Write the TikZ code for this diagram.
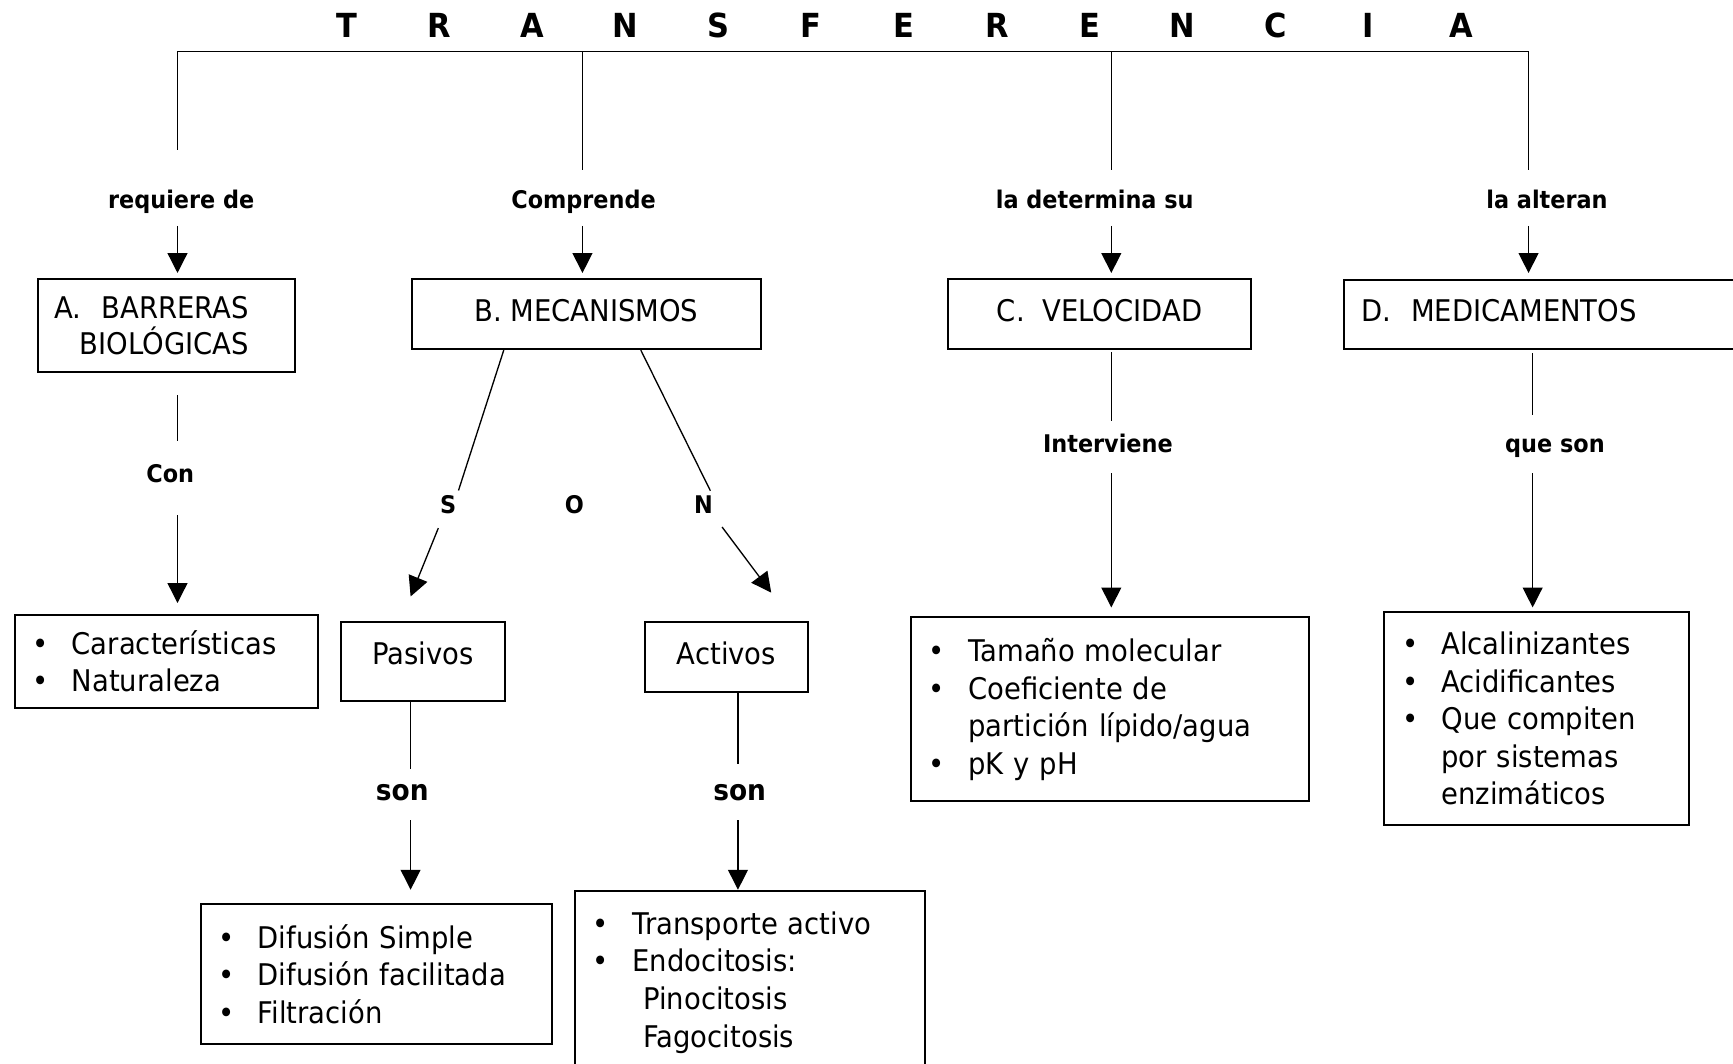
\documentclass[tikz,border=0pt]{standalone}
\usepackage{fontspec}
\setmainfont{DejaVu Sans}[FakeStretch=0.92]
\usetikzlibrary{arrows.meta,positioning}
\tikzset{
  ln/.style={line width=0.6pt},
  arr/.style={ln, -{Triangle[length=9pt,width=9pt]}},
  box/.style={draw, line width=0.9pt, anchor=north west, inner sep=0pt},
  hbox/.style={box, font=\fontsize{13.5}{16.5}\selectfont},
  lstbox/.style={box, align=left, inner xsep=8pt, font=\fontsize{13.5}{17}\selectfont},
  lbl/.style={font=\bfseries\fontsize{11}{13}\selectfont, inner sep=0pt, text height=8.5pt, text depth=2.5pt},
  sonlbl/.style={lbl, font=\bfseries\fontsize{13}{15}\selectfont},
  ttl/.style={font=\bfseries\fontsize{15}{17}\selectfont, inner sep=0pt}
}
\newcommand{\bitem}{\makebox[17.8pt][l]{\textbullet}}
\newcommand{\bcont}{\hspace*{17.8pt}}

\begin{document}
\begin{tikzpicture}[x=0.5pt, y=-0.5pt]
  \useasboundingbox (0,0) rectangle (1568,962);
  % title
  \foreach \ltr [count=\i] in {T,R,A,N,S,F,E,R,E,N,C,I,A}
    \node[ttl] (t\i) at ({313.8+84.03*(\i-1)},22.6) {\ltr};
  \coordinate (jReq)  at (160.6,46.7);
  \coordinate (jComp) at (527,46.7);
  \coordinate (jDet)  at (1005.5,46.7);
  \coordinate (jAlt)  at (1383,46.7);
  \coordinate (jMed)  at (1386.7,0);
  \coordinate (jPas)  at (371.5,0);
  \coordinate (jAct)  at (667.7,0);
  \coordinate (sEnd)  at (371.5,539.7);
  \coordinate (nEnd)  at (697.8,536.2);

  \node[lbl] (reqde)  at (164,182.5)   {requiere de};
  \node[lbl] (compr)  at (528,182.5)   {Comprende};
  \node[lbl] (determ) at (990.5,182.5) {la determina su};
  \node[lbl] (alter)  at (1399.7,182.5) {la alteran};

  \node[hbox, align=left, text width=101.25pt, inner xsep=7.5pt, minimum height=42.1pt] (barr) at (33.5,251.8)
    {A.~~BARRERAS\\\hspace*{11.3pt}BIOLÓGICAS};
  \node[hbox, minimum width=158.15pt, text height=19.05pt, text depth=12.55pt] (mecan) at (371.5,251.8) {B. MECANISMOS};
  \node[hbox, minimum width=137pt, text height=19.05pt, text depth=12.55pt] (veloc) at (857,251.8) {C.~~VELOCIDAD};
  \node[hbox, align=left, text width=186pt, inner xsep=8pt, text height=18.6pt, text depth=12.55pt] (medic) at (1214.9,252.7)
    {D.~~MEDICAMENTOS};

  \node[lbl] (con)    at (154,430.5)    {Con};
  \node[lbl] (letS)   at (405.6,459)    {S};
  \node[lbl] (letO)   at (519.6,459)    {O};
  \node[lbl] (letN)   at (636.5,459)    {N};
  \node[lbl] (interv) at (1002.4,403)   {Interviene};
  \node[lbl] (queson) at (1406.9,403)   {que son};

  \node[hbox, minimum width=74.1pt, text height=19.1pt, text depth=16.75pt] (pasiv) at (307.7,561.8) {Pasivos};
  \node[hbox, minimum width=74pt, text height=19.1pt, text depth=12.8pt] (activ) at (582.4,561.8) {Activos};
  \node[sonlbl] (sonP) at (364,718.2)   {son};
  \node[sonlbl] (sonA) at (669.2,718.2) {son};

  % lists
  \node[lstbox, text width=121.25pt, minimum height=41.95pt] (lstBarr) at (12.5,555.5)
    {\bitem Características\\\bitem Naturaleza};
  \node[lstbox, text width=142.9pt, minimum height=63.6pt] (lstPas) at (180.7,816.8)
    {\bitem Difusión Simple\\\bitem Difusión facilitada\\\bitem Filtración};
  \node[lstbox, text width=142.2pt, minimum height=82.3pt] (lstAct) at (519.6,805.7)
    {\bitem Transporte activo\\\bitem Endocitosis:\\\hspace*{22.8pt}Pinocitosis\\\hspace*{22.8pt}Fagocitosis};
  \node[lstbox, text width=163.85pt, minimum height=83.15pt] (lstVel) at (823.5,557.8)
    {\bitem Tamaño molecular\\\bitem Coeficiente de\\\bcont partición lípido/agua\\\bitem pK y pH};
  \node[lstbox, text width=121.8pt, minimum height=96.55pt] (lstMed) at (1251.7,552.7)
    {\bitem Alcalinizantes\\\bitem Acidificantes\\\bitem Que compiten\\\bcont por sistemas\\\bcont enzimáticos};

  % tree from the title
  \draw[ln, shorten <=17.9pt, shorten >=8.85pt] (jReq |- reqde.north) -- (jReq) -- (jAlt) -- (jAlt |- alter.north);
  \draw[ln, shorten >=8.85pt] (jComp) -- (jComp |- compr.north);
  \draw[ln, shorten >=8.85pt] (jDet) -- (jDet |- determ.north);
  \draw[arr, shorten <=5.25pt, shorten >=2.4pt] (jReq |- reqde.south) -- (jReq |- barr.north);
  \draw[arr, shorten <=5.25pt, shorten >=2.4pt] (jComp |- compr.south) -- (jComp |- mecan.north);
  \draw[arr, shorten <=5.25pt, shorten >=2.4pt] (jDet |- determ.south) -- (jDet |- veloc.north);
  \draw[arr, shorten <=5.25pt, shorten >=2.85pt] (jAlt |- alter.south) -- (jAlt |- medic.north);

  % A
  \draw[ln, shorten <=9.8pt, shorten >=10.25pt] (jReq |- barr.south) -- (jReq |- con.north);
  \draw[arr, shorten <=12.25pt, shorten >=4.95pt] (jReq |- con.south) -- (jReq |- lstBarr.north);
  % B
  \draw[ln, shorten >=2pt] ([xshift=42.15pt]mecan.south west) -- ([xshift=4pt]letS.north);
  \draw[arr, shorten <=4pt] ([xshift=-3pt]letS.south) -- (sEnd);
  \draw[ln, shorten >=2pt] ([xshift=104.15pt]mecan.south west) -- ([xshift=4pt]letN.north);
  \draw[arr, shorten <=4pt] ([xshift=6pt]letN.south) -- (nEnd);
  \draw[ln, shorten >=5.7pt] (jPas |- pasiv.south) -- (jPas |- sonP.north);
  \draw[arr, shorten <=6.35pt, shorten >=5.9pt] (jPas |- sonP.south) -- (jPas |- lstPas.north);
  \draw[ln, shorten >=7.7pt] (jAct |- activ.south) -- (jAct |- sonA.north);
  \draw[arr, shorten <=6.35pt, shorten >=0.35pt] (jAct |- sonA.south) -- (jAct |- lstAct.north);
  % C
  \draw[ln, shorten <=0.85pt, shorten >=5.35pt] (jDet |- veloc.south) -- (jDet |- interv.north);
  \draw[arr, shorten <=6.9pt, shorten >=4.1pt] (jDet |- interv.south) -- (jDet |- lstVel.north);
  % D
  \draw[ln, shorten <=1.5pt, shorten >=8pt] (jMed |- medic.south) -- (jMed |- queson.north);
  \draw[arr, shorten <=6.9pt, shorten >=1.55pt] (jMed |- queson.south) -- (jMed |- lstMed.north);
\end{tikzpicture}
\end{document}
